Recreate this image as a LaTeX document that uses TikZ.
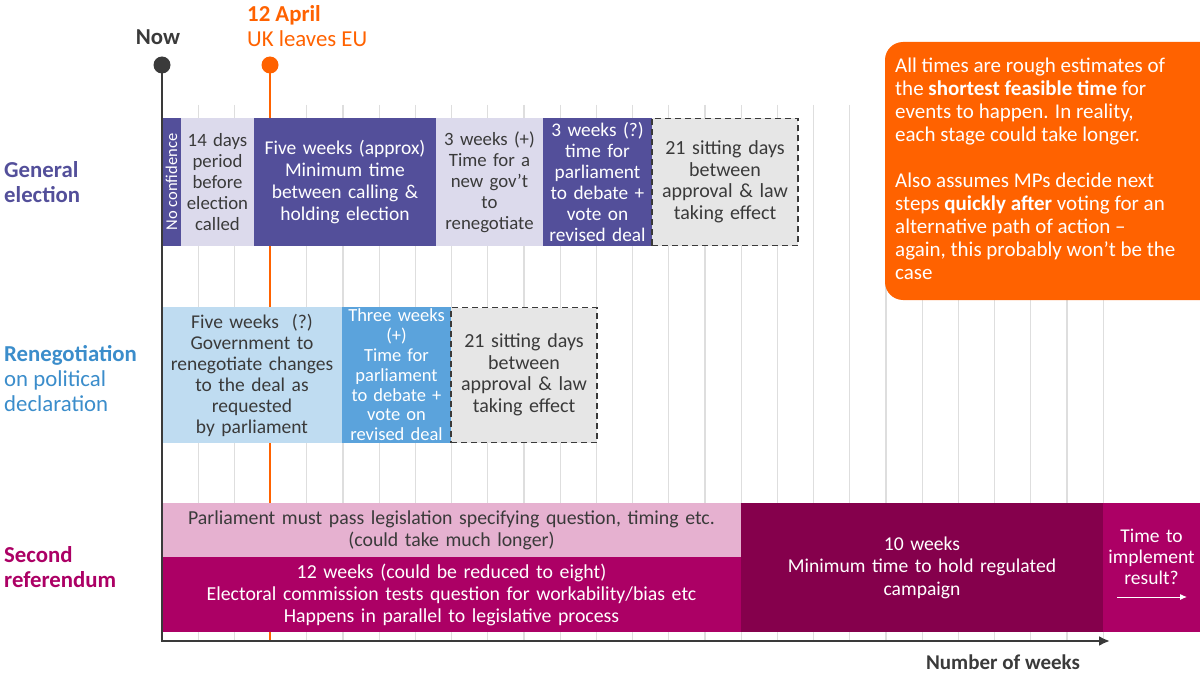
\documentclass[tikz,border=0pt]{standalone}
\usepackage{fontspec}
\setmainfont{Carlito}
\usetikzlibrary{arrows.meta}
\definecolor{gpurple}{HTML}{534F9A}
\definecolor{glav}{HTML}{DCDAEC}
\definecolor{ggrey}{HTML}{E6E6E6}
\definecolor{lblue}{HTML}{BFDCF1}
\definecolor{mblue}{HTML}{5BA3DC}
\definecolor{rblue}{HTML}{3B8DCB}
\definecolor{pinkl}{HTML}{E6B1D0}
\definecolor{magen}{HTML}{AC0065}
\definecolor{maroonc}{HTML}{85004C}
\definecolor{ingorange}{HTML}{FF6200}
\definecolor{txt}{HTML}{3A3A3A}
\definecolor{gridc}{HTML}{DEDEDE}
\newcommand\bodyfont{\fontsize{19.5}{21.5}\selectfont}
\newcommand\lblfont{\fontsize{22.8}{25}\selectfont}
\begin{document}
\begin{tikzpicture}[x=1pt,y=-1pt,
  blk/.style={inner sep=0pt, outer sep=0pt, align=center, anchor=center, font=\bodyfont},
  darkbox/.style={blk, text=white},
  lightbox/.style={blk, text=txt},
  dashbox/.style={blk, text=txt, fill=ggrey, draw=txt, line width=1.8pt, dash pattern=on 6pt off 4pt},
  gridline/.style={draw=gridc, line width=1.2pt},
  axisline/.style={draw=txt, line width=2.6pt},
  rowlabel/.style={anchor=west, align=left, font=\lblfont, inner sep=0pt}
]
\useasboundingbox (0,0) rectangle (1200,674);
\fill[white] (0,0) rectangle (1200,674);

% grid
\foreach \i in {1,...,26}{
  \draw[gridline] ({162+36.2*\i},105) -- ({162+36.2*\i},641);
}

% key coordinates
\coordinate (nowc) at (162,65);
\coordinate (aprc) at (270,65);
\coordinate (origin) at (162,641);
\coordinate (aprbase) at (270,641);
\coordinate (xend) at (1110,641);

% April line
\draw[draw=ingorange, line width=2pt] (aprc) -- (aprbase);

% Row 1: General election
\node[darkbox, fill=gpurple, minimum width=19pt, minimum height=128pt] (nc) at (171.5,182) {};
\node[rotate=90, text=white, font=\fontsize{16.5}{18}\selectfont, inner sep=0pt] (nctext) at (nc.center) {No confidence};
\node[lightbox, fill=glav, minimum width=73pt, minimum height=128pt, text width=71pt, font=\fontsize{18.8}{21}\selectfont] (d14) at (217.5,182) {14 days\\period\\before\\election\\called};
\node[darkbox, fill=gpurple, minimum width=182pt, minimum height=128pt, text width=178pt, font=\fontsize{19.5}{22}\selectfont] (fw) at (345,182) {Five weeks (approx)\\Minimum time\\between calling \&\\holding election};
\node[lightbox, fill=glav, minimum width=107pt, minimum height=128pt, text width=104pt, font=\fontsize{18.8}{21}\selectfont] (w3) at (489.5,182) {3 weeks (+)\\Time for a\\new gov’t\\to\\renegotiate};
\node[darkbox, fill=gpurple, minimum width=109pt, minimum height=128pt, text width=107pt, font=\fontsize{19.3}{21}\selectfont] (w3q) at (597.5,182) {3 weeks (?)\\time for\\parliament\\to debate +\\vote on\\revised deal};
\node[dashbox, minimum width=146pt, minimum height=127pt, text width=140pt, font=\fontsize{20}{21.5}\selectfont] (sd1) at (725,182) {21 sitting days\\between\\approval \& law\\taking effect};

% Row 2: Renegotiation
\node[lightbox, fill=lblue, minimum width=180pt, minimum height=136pt, text width=176pt, font=\fontsize{19.5}{21}\selectfont] (lb) at (252,375) {Five weeks\ \ (?)\\Government to\\renegotiate changes\\to the deal as\\requested\\by parliament};
\node[darkbox, fill=mblue, minimum width=109pt, minimum height=136pt, text width=107pt, font=\fontsize{18.5}{19.8}\selectfont] (mb) at (396.5,375) {Three weeks\\(+)\\Time for\\parliament\\to debate +\\vote on\\revised deal};
\node[dashbox, minimum width=146pt, minimum height=135pt, text width=140pt, font=\fontsize{20}{21.5}\selectfont] (sd2) at (524,375) {21 sitting days\\between\\approval \& law\\taking effect};

% Row 3: Second referendum
\node[lightbox, fill=pinkl, minimum width=579pt, minimum height=54pt, text width=570pt, font=\fontsize{19.8}{22}\selectfont] (pk) at (451.5,530) {Parliament must pass legislation specifying question, timing etc.\\(could take much longer)};
\node[darkbox, fill=magen, minimum width=579pt, minimum height=75pt, text width=570pt, font=\fontsize{19.8}{22}\selectfont] (mg) at (451.5,594.5) {12 weeks (could be reduced to eight)\\Electoral commission tests question for workability/bias etc\\Happens in parallel to legislative process};
\node[darkbox, fill=maroonc, minimum width=362pt, minimum height=129pt, text width=340pt, font=\fontsize{19.6}{22.5}\selectfont] (mr) at (922,567.5) {10 weeks\\Minimum time to hold regulated\\campaign};
\node[darkbox, fill=magen, minimum width=97pt, minimum height=129pt] (im) at (1151.5,567.5) {};
\node[blk, text=white, text width=96pt, font=\fontsize{19.5}{21}\selectfont] (imtext) at (1151.5,557) {Time to\\implement\\result?};
\coordinate (arrs) at (1117,597);
\coordinate (arre) at (1187,597);
\draw[white, line width=1pt, -{Latex[length=7pt,width=6pt]}] (arrs) -- (arre);

% axes
\draw[axisline, -{Latex[length=11pt,width=10pt]}] (nowc) -- (origin) -- (xend);

% dots
\node[circle, fill=txt, minimum size=17pt, inner sep=0pt] (nowdot) at (nowc) {};
\node[circle, fill=ingorange, minimum size=17pt, inner sep=0pt] (aprdot) at (aprc) {};

% top labels
\node[font=\lblfont\bfseries, text=txt, inner sep=0pt] (nowlbl) at (158,37) {Now};
\node[anchor=west, align=left, font=\lblfont, text=ingorange, inner sep=0pt] (aprlbl) at (247,26) {\textbf{12 April}\\UK leaves EU};

% row labels
\node[rowlabel, text=gpurple] (gel) at (4,182.5) {\textbf{General}\\\textbf{election}};
\node[rowlabel, text=rblue] (rnl) at (4,379) {\textbf{Renegotiation}\\on political\\declaration};
\node[rowlabel, text=magen] (srl) at (4,567.5) {\textbf{Second}\\\textbf{referendum}};

% axis label
\node[font=\fontsize{21}{22}\selectfont\bfseries, text=txt, inner sep=0pt] (nw) at (1003,662) {Number of weeks};

% note box
\begin{scope}
\clip (0,0) rectangle (1200,674);
\fill[ingorange, rounded corners=18pt] (885,42) rectangle (1230,300);
\end{scope}
\node[anchor=north west, align=left, text=white, font=\fontsize{21}{23}\selectfont, inner sep=0pt] (note) at (895,58) {All times are rough estimates of\\the \textbf{shortest feasible time} for\\events to happen. In reality,\\each stage could take longer.\\[23pt]Also assumes MPs decide next\\steps \textbf{quickly after} voting for an\\alternative path of action –\\again, this probably won’t be the\\case};
\end{tikzpicture}
\end{document}
